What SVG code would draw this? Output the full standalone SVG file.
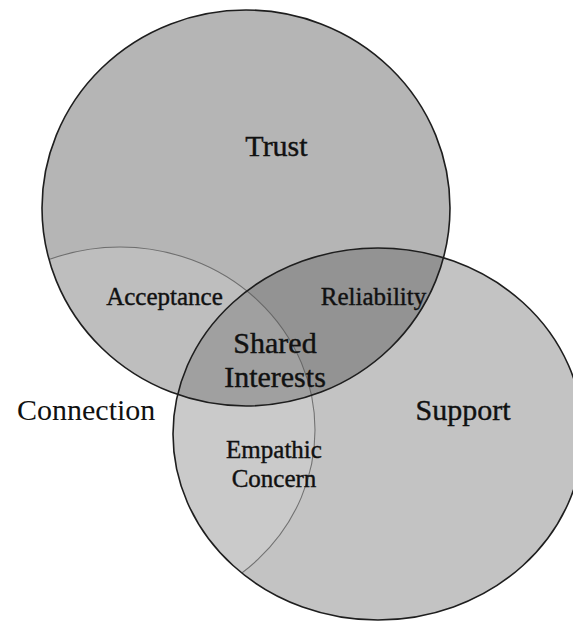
<svg xmlns="http://www.w3.org/2000/svg" width="573" height="621" viewBox="0 0 573 621">
  <defs>
    <style>
      .txt { font-family: "Liberation Serif", "Times New Roman", serif; fill: #111111; }
      .inner { stroke: #111111; stroke-width: 0.4; }
      .big { font-size: 30px; }
      .mid { font-size: 25px; }
      .edge { fill: none; stroke: #1e1e1e; stroke-width: 1.6; }
      .faint { fill: none; stroke: #555555; stroke-width: 1.1; stroke-opacity: 0.75; }
    </style>
    <clipPath id="clipTrust">
      <ellipse cx="246" cy="208" rx="204" ry="198"/>
    </clipPath>
    <clipPath id="clipUnion">
      <ellipse cx="246" cy="208" rx="204" ry="198"/>
      <ellipse cx="378" cy="434" rx="205" ry="186"/>
    </clipPath>
  </defs>

  <rect x="0" y="0" width="573" height="621" fill="#ffffff"/>

  <g id="node-trust">
    <ellipse cx="246" cy="208" rx="204" ry="198" fill="#b5b5b5"/>
  </g>

  <g id="node-support">
    <ellipse cx="378" cy="434" rx="205" ry="186" fill="#c3c3c3"/>
  </g>

  <g id="region-reliability">
    <ellipse cx="378" cy="434" rx="205" ry="186" fill="#939393" clip-path="url(#clipTrust)"/>
  </g>

  <g id="node-connection" clip-path="url(#clipUnion)">
    <ellipse cx="120" cy="430" rx="195" ry="183" fill="#ffffff" fill-opacity="0.12"/>
    <ellipse class="faint" cx="120" cy="430" rx="195" ry="183"/>
  </g>

  <g id="outlines">
    <ellipse class="edge" cx="246" cy="208" rx="204" ry="198"/>
    <ellipse class="edge" cx="378" cy="434" rx="205" ry="186"/>
  </g>

  <g id="labels">
    <text class="txt big inner" x="276.5" y="156" text-anchor="middle">Trust</text>
    <text class="txt big inner" x="463" y="420" text-anchor="middle">Support</text>
    <text class="txt big" x="17" y="420">Connection</text>
    <text class="txt mid inner" x="164.5" y="305" text-anchor="middle">Acceptance</text>
    <text class="txt mid inner" x="373.5" y="305" text-anchor="middle">Reliability</text>
    <text class="txt big inner" x="275" y="353" text-anchor="middle">Shared</text>
    <text class="txt big inner" x="275" y="387" text-anchor="middle">Interests</text>
    <text class="txt mid inner" x="274" y="458" text-anchor="middle">Empathic</text>
    <text class="txt mid inner" x="274" y="487" text-anchor="middle">Concern</text>
  </g>
</svg>
